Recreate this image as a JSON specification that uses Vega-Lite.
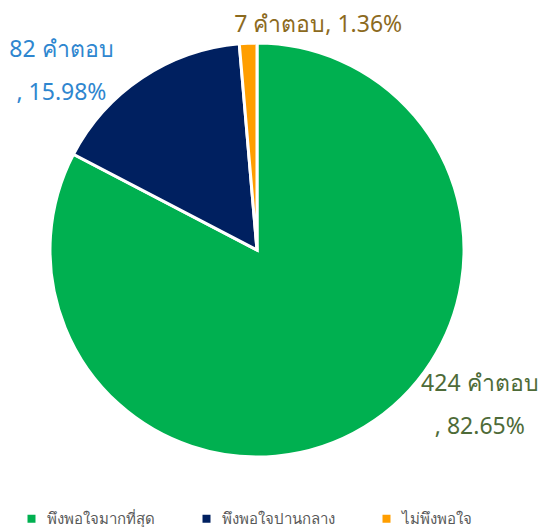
{
  "$schema": "https://vega.github.io/schema/vega-lite/v6.json",
  "width": 514,
  "height": 500,
  "padding": 0,
  "background": "white",
  "config": {"view": {"stroke": null}, "font": "Noto Sans"},
  "data": {
    "values": [
      {"category": "พึงพอใจมากที่สุด", "count": 424, "label": "424 คำตอบ\n, 82.65%"},
      {"category": "พึงพอใจปานกลาง", "count": 82, "label": "82 คำตอบ\n, 15.98%"},
      {"category": "ไม่พึงพอใจ", "count": 7, "label": "7 คำตอบ, 1.36%"}
    ]
  },
  "encoding": {
    "theta": {"field": "count", "type": "quantitative", "stack": true},
    "order": {"field": "count", "sort": "descending"}
  },
  "layer": [
    {
      "mark": {"type": "arc", "outerRadius": 207, "stroke": "white", "strokeWidth": 3},
      "encoding": {
        "color": {
          "field": "category",
          "type": "nominal",
          "scale": {
            "domain": ["พึงพอใจมากที่สุด", "พึงพอใจปานกลาง", "ไม่พึงพอใจ"],
            "range": ["#00B050", "#002060", "#FF9E00"]
          },
          "legend": {
            "title": null,
            "orient": "none",
            "legendX": 24,
            "legendY": 511,
            "direction": "horizontal",
            "columns": 3,
            "columnPadding": 44,
            "symbolType": "square",
            "symbolSize": 64,
            "symbolStrokeWidth": 0,
            "symbolOffset": 0,
            "labelFontSize": 15,
            "labelColor": "#595959",
            "labelOffset": 8
          }
        }
      }
    },
    {
      "mark": {"type": "text", "radius": 181, "fontSize": 23, "align": "center", "baseline": "middle", "lineBreak": "\n", "lineHeight": 43, "color": "#4E6B38", "dx": 129, "dy": -21},
      "encoding": {
        "text": {"condition": {"test": "datum.category === 'พึงพอใจมากที่สุด'", "field": "label"}, "value": ""}
      }
    },
    {
      "mark": {"type": "text", "radius": 120, "fontSize": 23, "align": "center", "baseline": "middle", "lineBreak": "\n", "lineHeight": 43, "color": "#2E86CF", "dx": -129, "dy": -100},
      "encoding": {
        "text": {"condition": {"test": "datum.category === 'พึงพอใจปานกลาง'", "field": "label"}, "value": ""}
      }
    },
    {
      "mark": {"type": "text", "radius": 230, "fontSize": 23, "align": "center", "baseline": "middle", "lineBreak": "\n", "lineHeight": 43, "color": "#8C6A1E", "dx": 71, "dy": 5},
      "encoding": {
        "text": {"condition": {"test": "datum.category === 'ไม่พึงพอใจ'", "field": "label"}, "value": ""}
      }
    }
  ]
}
